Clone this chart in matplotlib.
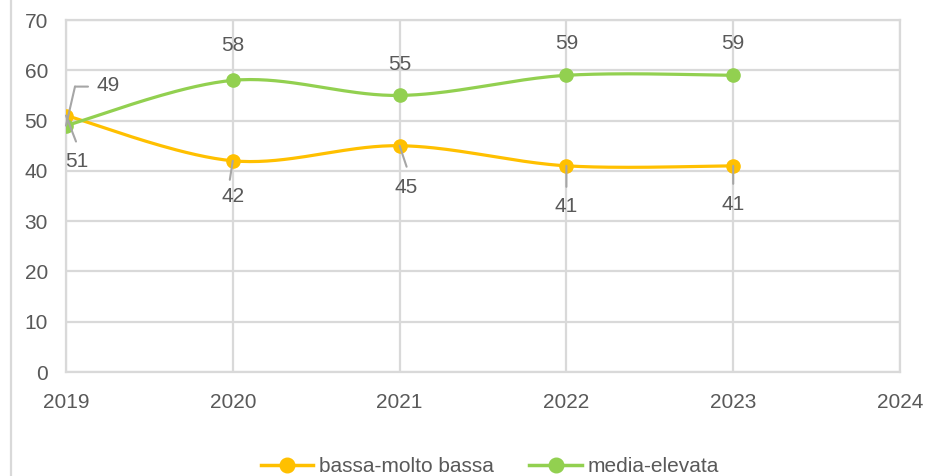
import numpy as np
import matplotlib.pyplot as plt
import matplotlib.transforms as mtransforms
from matplotlib.lines import Line2D

# dati
anni = [2019, 2020, 2021, 2022, 2023]
bassa = [51, 42, 45, 41, 41]
media = [49, 58, 55, 59, 59]
nomi = ["bassa-molto bassa", "media-elevata"]
colori = ["#FFC000", "#92D050"]

# posizione etichette (offset in pixel rispetto al punto)
off_bassa = [(11, -46), (0, -36), (7, -42), (0, -41), (0, -39)]
off_media = [(42, 40), (0, 35), (0, 31), (0, 32), (0, 32)]
# linee guida (estremo lontano, offset in pixel)
lead_bassa = [(10, -26), (-3, -19), (7, -21), (0, -21), (0, -18)]

grigio = "#595959"
griglia = "#D9D9D9"
fs = 15
plt.rcParams['font.family'] = ['Liberation Sans', 'DejaVu Sans']


def smooth(x, y, n=40):
    # spline tipo Excel (Catmull-Rom con Bezier cubiche)
    p = np.column_stack([x, y]).astype(float)
    p = np.vstack([p[0], p, p[-1]])
    out = []
    t = np.linspace(0, 1, n)[:, None]
    for i in range(1, len(p) - 2):
        p0, p1, p2, p3 = p[i - 1], p[i], p[i + 1], p[i + 2]
        c1 = p1 + (p2 - p0) / 6
        c2 = p2 - (p3 - p1) / 6
        seg = ((1 - t) ** 3) * p1 + 3 * ((1 - t) ** 2) * t * c1 + 3 * (1 - t) * t ** 2 * c2 + t ** 3 * p2
        out.append(seg)
    out = np.vstack(out)
    return out[:, 0], out[:, 1]


fig = plt.figure(figsize=(9.26, 4.76), dpi=100)
ax = fig.add_axes([66 / 926, 1 - 372 / 476, (900 - 66) / 926, (372 - 20) / 476])
ax.set_xlim(2019, 2024)
ax.set_ylim(0, 70)
ax.set_xticks(range(2019, 2025))
ax.set_yticks(range(0, 71, 10))
ax.grid(True, color=griglia, lw=1.6)
for s in ax.spines.values():
    s.set_color(griglia)
    s.set_linewidth(1.6)
ax.tick_params(length=0, labelsize=fs, labelcolor=grigio)
ax.tick_params(axis='x', pad=15)
ax.tick_params(axis='y', pad=13)
ax.set_axisbelow(True)

for vals, col, nome in zip([bassa, media], colori, nomi):
    sx, sy = smooth(anni, vals)
    ax.plot(sx, sy, color=col, lw=2.3, zorder=3)
    ax.plot(anni, vals, 'o', color=col, ms=9.5, zorder=4)

# linee guida
for a, v, d in zip(anni, bassa, lead_bassa):
    ax.annotate('', xy=(a, v), xytext=d, textcoords='offset pixels',
                arrowprops=dict(arrowstyle='-', color='#A6A6A6', lw=1.5, shrinkA=0, shrinkB=0), zorder=5)
# linea spezzata per il 49
t1 = mtransforms.offset_copy(ax.transData, fig=fig, x=9, y=39, units='dots')
t2 = mtransforms.offset_copy(ax.transData, fig=fig, x=22, y=39, units='dots')
ax.annotate('', xy=(anni[0], media[0]), xytext=(anni[0], media[0]), textcoords=t1,
            arrowprops=dict(arrowstyle='-', color='#A6A6A6', lw=1.5, shrinkA=0, shrinkB=0), zorder=5)
ax.annotate('', xy=(anni[0], media[0]), xycoords=t1, xytext=(anni[0], media[0]), textcoords=t2,
            arrowprops=dict(arrowstyle='-', color='#A6A6A6', lw=1.5, shrinkA=0, shrinkB=0), zorder=5)

# etichette
for a, v, o in zip(anni, bassa, off_bassa):
    ax.annotate(str(v), xy=(a, v), xytext=o, textcoords='offset pixels',
                ha='center', va='center', fontsize=fs, color=grigio, zorder=6)
for a, v, o in zip(anni, media, off_media):
    ax.annotate(str(v), xy=(a, v), xytext=o, textcoords='offset pixels',
                ha='center', va='center', fontsize=fs, color=grigio, zorder=6)

# bordo area grafico
fig.add_artist(Line2D([11 / 926, 11 / 926], [0, 1], color=griglia, lw=1.6))

handles = [Line2D([], [], color=c, lw=2.5, marker='o', ms=10.5) for c in colori]
fig.legend(handles, nomi, loc='center', bbox_to_anchor=(490 / 926, 1 - 467 / 476),
           ncol=2, frameon=False, fontsize=fs, labelcolor=grigio,
           handlelength=2.5, handletextpad=0.3, columnspacing=1.7)

fig.savefig("out.png", dpi=100)
